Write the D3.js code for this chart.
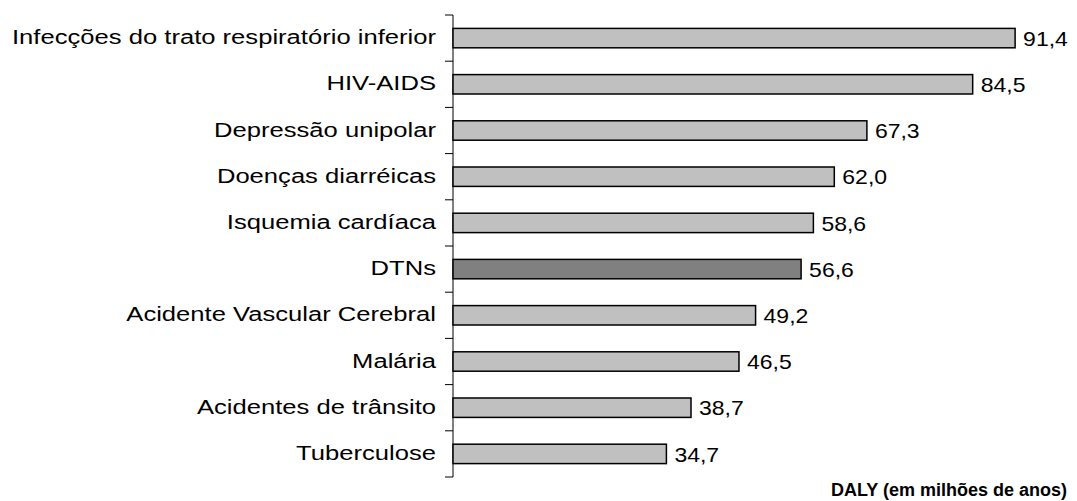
<!DOCTYPE html>
<html>
<head>
<meta charset="utf-8">
<script src="https://cdn.jsdelivr.net/npm/d3@7"></script>
<style>
  body { margin: 0; background: #fff; }
  text { font-family: "Liberation Sans", Arial, sans-serif; }
</style>
</head>
<body>
<div class="chart"></div>
<script>
// data
var causes = [
  "Infecções do trato respiratório inferior",
  "HIV-AIDS",
  "Depressão unipolar",
  "Doenças diarréicas",
  "Isquemia cardíaca",
  "DTNs",
  "Acidente Vascular Cerebral",
  "Malária",
  "Acidentes de trânsito",
  "Tuberculose"
];
var dalys = [91.4, 84.5, 67.3, 62.0, 58.6, 56.6, 49.2, 46.5, 38.7, 34.7];
var highlight = "DTNs";
var axisTitle = "DALY (em milhões de anos)";

var svgWidth = 1077;
var svgHeight = 501;

var svg = d3.select(".chart")
  .append("svg")
  .attr("width", svgWidth)
  .attr("height", svgHeight);

var data = causes.map(function(c, i) { return { cause: c, value: dalys[i] }; });

// scales
var xScale = d3.scaleLinear()
  .domain([0, 100])
  .range([453, 1068]);

var yScale = d3.scaleBand()
  .domain(causes)
  .range([15, 477])
  .paddingInner(0.58)
  .paddingOuter(0.29);

// left axis line with ticks between the categories
var axisG = svg.append("g");
axisG.append("line")
  .attr("x1", 453).attr("x2", 453)
  .attr("y1", 15).attr("y2", 477)
  .attr("stroke", "#000")
  .attr("stroke-width", 1);

var tickYs = d3.range(causes.length + 1).map(function(i) { return 15 + i * yScale.step(); });
axisG.selectAll(".tick")
  .data(tickYs)
  .enter()
  .append("line")
  .attr("x1", 445).attr("x2", 453)
  .attr("y1", d => d).attr("y2", d => d)
  .attr("stroke", "#000")
  .attr("stroke-width", 1);

// bars
svg.selectAll("rect.bar")
  .data(data)
  .enter()
  .append("rect")
  .attr("class", "bar")
  .attr("x", xScale(0))
  .attr("y", d => yScale(d.cause))
  .attr("width", d => xScale(d.value) - xScale(0))
  .attr("height", yScale.bandwidth())
  .attr("fill", d => d.cause === highlight ? "#808080" : "#c0c0c0")
  .attr("stroke", "#000")
  .attr("stroke-width", 1.5);

// category labels (the original text is stretched horizontally)
svg.selectAll("g.cat")
  .data(data)
  .enter()
  .append("g")
  .attr("class", "cat")
  .attr("transform", d => `translate(436, ${yScale(d.cause) + yScale.bandwidth() / 2}) scale(1.28, 1)`)
  .append("text")
  .attr("dy", "0.3em")
  .attr("text-anchor", "end")
  .style("font-size", "20px")
  .text(d => d.cause);

// value labels
svg.selectAll("g.val")
  .data(data)
  .enter()
  .append("g")
  .attr("class", "val")
  .attr("transform", d => `translate(${xScale(d.value) + 8}, ${yScale(d.cause) + yScale.bandwidth() / 2}) scale(1.15, 1)`)
  .append("text")
  .attr("dy", "0.38em")
  .style("font-size", "20px")
  .text(d => d3.format(".1f")(d.value).replace(".", ","));

// axis title
svg.append("text")
  .attr("x", 1067)
  .attr("y", 496)
  .attr("text-anchor", "end")
  .style("font-size", "18px")
  .style("font-weight", "bold")
  .text(axisTitle);
</script>
</body>
</html>
